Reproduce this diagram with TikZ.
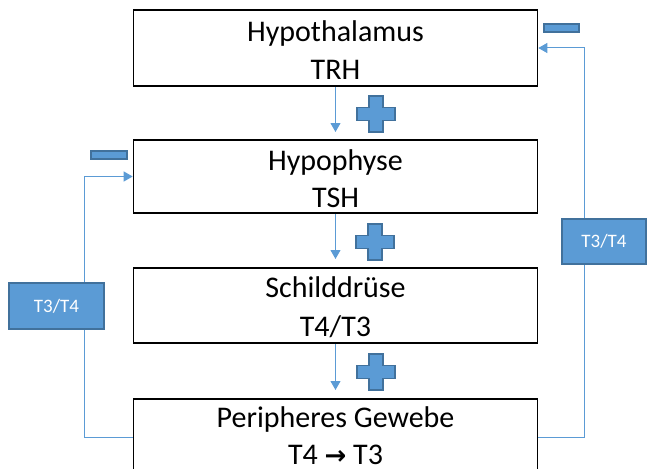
\documentclass[tikz,border=0pt]{standalone}
\usepackage{fontspec}
\setmainfont{Carlito}
\newfontfamily\arrowfont{DejaVu Sans}
\usetikzlibrary{arrows.meta}
\definecolor{accent}{HTML}{5B9BD5}
\definecolor{accentdark}{HTML}{41719C}

\begin{document}
\begin{tikzpicture}[x=1pt,y=-1pt,
  organ/.style={draw=black, line width=1.6pt, fill=white, minimum width=404pt, inner sep=0pt},
  txt/.style={font=\fontsize{30}{36}\selectfont, anchor=base, inner sep=0pt},
  link/.style={draw=accent, line width=1pt},
  arr/.style={link, -{Triangle[length=9pt,width=10pt]}},
  sign/.style={fill=accent, draw=accentdark, line width=1.2pt},
  tag/.style={rectangle, fill=accent, draw=accentdark, line width=1.2pt, inner sep=0pt,
    text=white, font=\fontsize{19}{22}\selectfont},
  plussign/.pic={\path[sign] (-19,-6.5) -- (-7,-6.5) -- (-7,-18) -- (7,-18) -- (7,-6.5)
    -- (19,-6.5) -- (19,6.5) -- (7,6.5) -- (7,18) -- (-7,18) -- (-7,6.5) -- (-19,6.5) -- cycle;}
]
\useasboundingbox (0,0) rectangle (647,468);
\clip (0,0) rectangle (647,468);

% the four stations of the axis
\node[organ, minimum height=76pt] (hyp) at (335.5,48) {};
\node[organ, minimum height=73pt] (pit) at (335.5,176.5) {};
\node[organ, minimum height=75pt] (thy) at (335.5,305.5) {};
\node[organ, minimum height=76pt] (tis) at (335.5,437) {};

\node[txt] (hypA) at (335.5,42) {Hypothalamus};
\node[txt] (hypB) at (335.5,80) {TRH};
\node[txt] (pitA) at (335.5,170) {Hypophyse};
\node[txt] (pitB) at (335.5,207) {TSH};
\node[txt] (thyA) at (335.5,297) {Schilddrüse};
\node[txt] (thyB) at (335.5,336) {T4/T3};
\node[txt] (tisA) at (335.5,427) {Peripheres Gewebe};
\node[txt] (tisB) at (335.5,464) {T4 {\arrowfont\bfseries\fontsize{26}{30}\selectfont →} T3};

% stimulating cascade
\coordinate (tip1) at (335.5,132);
\coordinate (tip2) at (335.5,259);
\coordinate (tip3) at (335.5,390);
\draw[arr] (hyp.south) -- (tip1);
\draw[arr] (pit.south) -- (tip2);
\draw[arr] (thy.south) -- (tip3);
\pic at (376,114) {plussign};
\pic at (375,242) {plussign};
\pic at (376,372) {plussign};

% negative feedback loops
\draw[arr] (tis.east) -- ++(46,0) |- (hyp.east);
\draw[arr] (tis.west) -- ++(-48,0) |- (pit.west);

\node[sign, rectangle, minimum width=35pt, minimum height=8pt, inner sep=0pt] (minusR) at (561.5,28) {};
\node[sign, rectangle, minimum width=36pt, minimum height=8pt, inner sep=0pt] (minusL) at (109,155) {};

\node[tag, minimum width=84pt, minimum height=45pt] (fbR) at (604,241.5) {T3/T4};
\node[tag, minimum width=95pt, minimum height=46pt] (fbL) at (56.5,306) {T3/T4};
\end{tikzpicture}
\end{document}
